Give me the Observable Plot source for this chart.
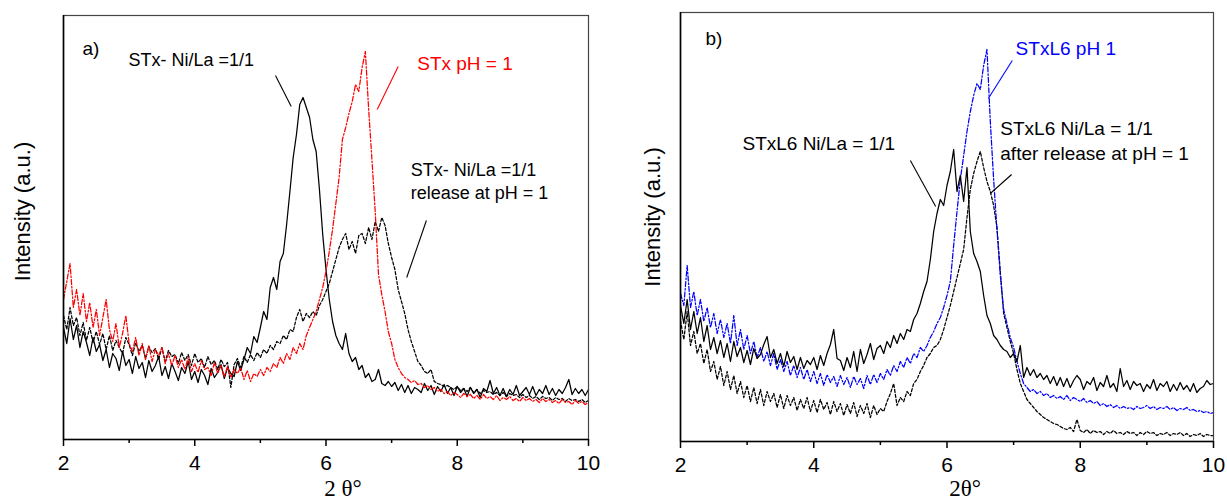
<!DOCTYPE html>
<html><head><meta charset="utf-8">
<script src="https://cdn.jsdelivr.net/npm/d3@7"></script>
<script src="https://cdn.jsdelivr.net/npm/@observablehq/plot@0.6"></script>
<style>
body{margin:0;background:#fff;}
#wrap{position:relative;width:1227px;height:501px;font-family:"Liberation Sans",Arial,sans-serif;}
#pa{position:absolute;left:0;top:0;}
#pb{position:absolute;left:615px;top:0;}
</style></head><body><div id="wrap"><div id="pa"></div><div id="pb"></div></div>
<script>
// sampling of 2θ (degrees)
const X_START = 2, X_STEP = 0.05;
const xTicks = [2, 4, 6, 8, 10];
const xMinorTicks = [3, 5, 7, 9];

// Panel a) intensities (a.u.)
const aNiLa = [
112,96,121,100,114,92,108,97,84,102,
88,95,79,90,72,86,81,69,88,74,
80,66,83,71,77,62,79,68,74,83,
64,73,61,76,68,59,72,66,78,60,
68,57,70,64,55,71,62,67,75,61,
72,66,63,78,69,80,92,86,103,97,
112,128,120,152,162,150,178,186,215,248,
282,305,335,342,332,322,300,288,250,205,
170,140,118,104,96,90,106,86,78,82,
70,74,62,66,58,60,70,56,54,58,
53,57,49,55,47,54,46,52,50,47,
56,49,54,45,53,48,55,46,52,44,
53,47,51,43,52,46,50,42,51,48,
59,46,52,44,51,43,50,45,54,44,
48,52,45,53,44,50,46,54,45,51,
44,50,46,52,60,45,51,46,50,44,
50];
const aPH1 = [
140,158,176,132,150,124,146,118,137,112,
130,104,122,140,110,98,116,92,106,124,
96,88,102,84,96,80,94,78,90,84,
92,76,86,74,84,72,80,70,82,68,
76,67,79,70,72,64,77,66,74,63,
73,62,70,66,72,60,69,58,66,63,
70,64,72,68,76,72,82,76,86,80,
92,86,96,90,104,112,120,128,140,152,
168,188,210,236,262,300,312,326,338,355,
348,372,388,330,280,228,165,145,128,108,
96,80,72,66,62,60,57,59,55,56,
52,54,50,52,48,50,46,48,44,47,
45,42,46,43,45,41,44,40,45,41,
43,40,44,39,42,40,43,39,41,38,
42,39,41,38,40,37,41,38,40,37,
39,36,40,37,38,35,39,36,38,35,
37];
const aRelease = [
124,110,132,114,122,104,117,99,112,97,
108,95,106,90,104,89,99,92,86,102,
95,84,97,88,94,81,93,87,91,80,
92,78,89,83,85,76,87,79,85,74,
86,77,81,72,83,75,79,70,80,73,
77,52,75,81,72,83,77,85,79,87,
82,90,86,94,90,98,96,104,100,110,
108,122,130,118,126,122,128,124,134,140,
148,156,168,180,192,200,206,190,198,186,
204,206,196,212,200,218,208,222,214,196,
182,170,150,138,126,110,98,88,78,74,
68,66,70,58,56,55,53,54,52,50,
53,49,51,48,52,47,50,46,49,47,
48,45,47,44,47,43,46,44,45,42,
45,42,44,41,43,40,43,41,42,39,
42,40,41,38,41,39,40,38,40,37,
39];

// Panel b) intensities (a.u.)
const bNiLa = [
136,118,142,112,130,108,124,100,116,92,
104,88,101,84,98,80,100,85,94,79,
91,77,93,83,87,97,105,84,92,78,
88,75,90,79,85,72,84,73,81,77,
84,72,86,76,88,97,112,83,81,71,
84,74,90,70,92,78,87,98,82,93,
96,88,100,94,106,98,108,102,112,110,
122,128,138,150,160,182,210,228,242,236,
256,270,292,250,266,240,274,210,188,180,
170,146,126,118,106,102,96,92,90,84,
88,80,96,64,74,66,72,64,68,62,
66,58,65,56,64,55,63,54,61,66,
62,52,60,57,64,51,59,55,66,54,
58,50,73,55,61,52,60,56,58,50,
57,53,62,51,58,55,60,50,57,51,
59,52,56,50,58,49,53,55,61,57,
58];
const bPH1 = [
148,136,176,134,150,126,142,120,134,114,
128,108,122,104,118,98,126,96,112,92,
106,88,100,84,94,80,90,76,88,72,
82,70,80,66,76,64,74,62,72,60,
70,58,68,56,67,59,65,55,66,57,
64,54,65,57,63,53,66,57,67,59,
68,62,72,66,76,70,80,74,84,78,
88,84,94,90,96,104,110,118,124,134,
146,160,196,230,262,286,310,330,346,358,
352,376,392,320,262,212,166,132,118,104,
94,80,68,58,54,50,52,48,50,46,
48,44,46,43,45,42,46,41,44,42,
40,43,39,41,38,40,36,38,35,37,
34,36,33,35,33,34,32,35,33,34,
36,33,35,32,34,33,35,32,34,31,
33,32,34,31,32,30,31,29,30,28,
29];
const bRelease = [
121,102,130,96,110,88,98,78,92,70,
80,62,75,56,70,52,66,48,60,44,
56,40,54,38,52,36,50,40,48,34,
47,33,46,36,44,31,42,33,44,30,
41,29,42,32,39,27,40,30,38,26,
37,28,39,25,36,28,38,24,36,27,
33,30,40,48,58,36,44,40,50,46,
58,62,70,76,84,88,94,96,102,112,
124,136,150,164,178,192,224,252,268,280,
290,274,260,250,236,214,170,128,114,100,
88,72,58,50,42,38,34,30,27,24,
22,20,18,17,15,13,12,14,10,22,
11,9,12,8,11,9,10,7,10,8,
11,8,9,7,10,8,9,6,9,7,
10,8,9,6,8,7,9,6,8,7,
9,6,8,5,7,6,8,5,7,6,
6];

// annotation texts
const aLabels = [
  {x: 2.29, y: 391, text: "a)", fill: "#000", size: 19},
  {x: 2.99, y: 379, text: "STx- Ni/La =1/1", fill: "#000", size: 18},
  {x: 7.39, y: 376, text: "STx pH = 1", fill: "#f00", size: 19},
  {x: 7.29, y: 269, text: "STx- Ni/La =1/1", fill: "#000", size: 18},
  {x: 7.29, y: 246, text: "release at pH = 1", fill: "#000", size: 18}
];
const aLeaders = [
  {x1: 5.23, y1: 364, x2: 5.47, y2: 333, stroke: "#000"},
  {x1: 7.10, y1: 373, x2: 6.78, y2: 330, stroke: "#f00"},
  {x1: 7.53, y1: 219, x2: 7.23, y2: 162, stroke: "#000"}
];
const bLabels = [
  {x: 2.375, y: 403, text: "b)", fill: "#000", size: 19},
  {x: 2.93, y: 298, text: "STxL6 Ni/La = 1/1", fill: "#000", size: 19},
  {x: 7.03, y: 393, text: "STxL6 pH 1", fill: "#00f", size: 19},
  {x: 6.80, y: 313, text: "STxL6 Ni/La = 1/1", fill: "#000", size: 19},
  {x: 6.80, y: 288, text: "after release at pH = 1", fill: "#000", size: 19}
];
const bLeaders = [
  {x1: 5.45, y1: 281, x2: 5.83, y2: 235, stroke: "#000"},
  {x1: 6.98, y1: 381, x2: 6.62, y2: 343, stroke: "#00f"},
  {x1: 6.97, y1: 267, x2: 6.65, y2: 248, stroke: "#000"}
];

const SOLID = null, DASHDOT = "5,2,1.5,2", DASHED = "3,2";

function rows(vals) {
  return vals.map((v, i) => ({x: +(X_START + i * X_STEP).toFixed(2), y: v}));
}

function panel(o) {
  const marks = [];
  for (const s of o.series) {
    marks.push(Plot.line(rows(s.values), {
      x: "x", y: "y", stroke: s.stroke, strokeWidth: 1.25,
      strokeDasharray: s.dash == null ? undefined : s.dash
    }));
  }
  marks.push(
    Plot.frame({stroke: "#444", strokeWidth: 1.2}),
    Plot.ruleX([2], {stroke: "#000", strokeWidth: 1.6}),
    Plot.ruleY([0], {stroke: "#000", strokeWidth: 1.6}),
    Plot.axisX(xTicks, {tickSize: 7, tickPadding: 9, fontSize: 21, label: null, strokeWidth: 1.5, tickFormat: d => String(d)}),
    Plot.axisX(xMinorTicks, {tickSize: 4, label: null, strokeWidth: 1.5, tickFormat: () => ""}),
    Plot.link(o.leaders, {x1: "x1", y1: "y1", x2: "x2", y2: "y2", stroke: "stroke", strokeWidth: 1.1}),
    Plot.text(o.labels, {x: "x", y: "y", text: "text", fill: "fill", fontSize: d => d.size, textAnchor: "start", lineAnchor: "middle"}),
    Plot.text(["Intensity (a.u.)"], {frameAnchor: "left", rotate: -90, textAnchor: "middle", lineAnchor: "middle", dx: o.yLabelDx, dy: o.yLabelDy, fontSize: 22, fill: "#000"}),
    Plot.text([o.xTitle], {frameAnchor: "bottom", textAnchor: "middle", lineAnchor: "middle", dx: o.xTitleDx, dy: o.xTitleDy, fontSize: 23, fontFamily: "Liberation Serif, Times New Roman, serif", fill: "#000"})
  );
  return Plot.plot({
    width: o.width, height: 501,
    marginLeft: o.ml, marginRight: o.mr, marginTop: o.mt, marginBottom: o.mb,
    style: {fontFamily: "Liberation Sans, Arial, sans-serif", background: "#fff", color: "#000", overflow: "visible"},
    x: {domain: [2, 10]},
    y: {domain: [0, 501 - o.mt - o.mb], axis: null},
    marks
  });
}

document.getElementById("pa").appendChild(panel({
  width: 610, ml: 63, mr: 22, mt: 15, mb: 62,
  series: [
    {values: aNiLa, stroke: "#000", dash: SOLID},
    {values: aRelease, stroke: "#000", dash: DASHED},
    {values: aPH1, stroke: "#f00", dash: DASHDOT}
  ],
  labels: aLabels, leaders: aLeaders,
  yLabelDx: -41, yLabelDy: -16,
  xTitle: "2 θ°", xTitleDx: 17, xTitleDy: 49
}));
document.getElementById("pb").appendChild(panel({
  width: 612, ml: 65, mr: 14, mt: 12, mb: 60,
  series: [
    {values: bRelease, stroke: "#000", dash: DASHED},
    {values: bPH1, stroke: "#00f", dash: DASHDOT},
    {values: bNiLa, stroke: "#000", dash: SOLID}
  ],
  labels: bLabels, leaders: bLeaders,
  yLabelDx: -28, yLabelDy: -10,
  xTitle: "2θ°", xTitleDx: 18, xTitleDy: 47
}));
</script></body></html>
